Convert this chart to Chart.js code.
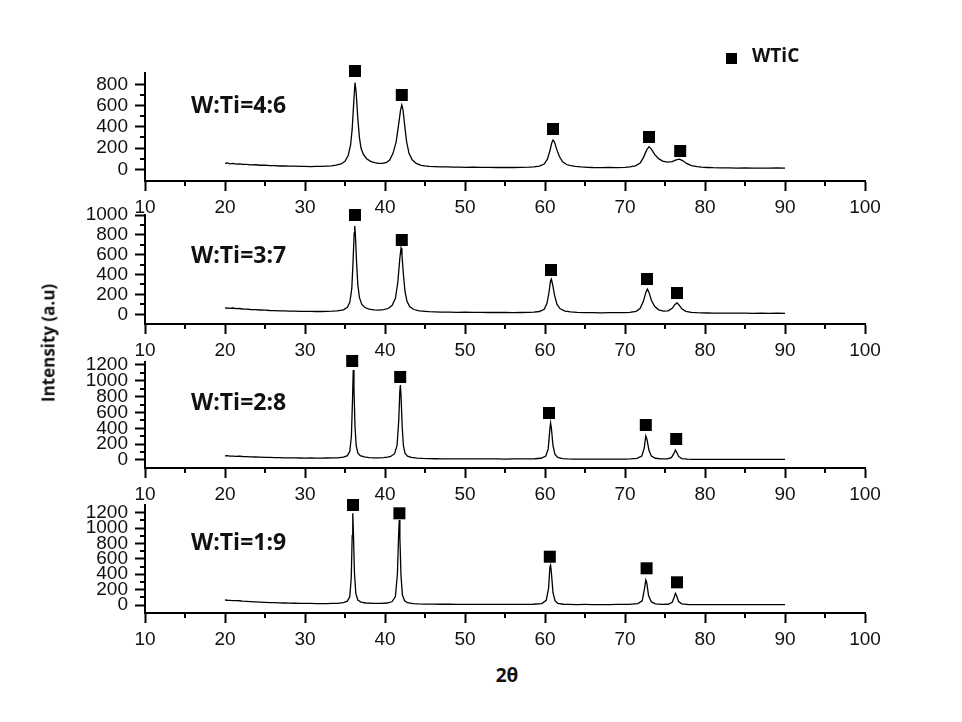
<!DOCTYPE html>
<html>
<head>
<meta charset="utf-8">
<script src="https://cdn.jsdelivr.net/npm/chart.js@4.4.0/dist/chart.umd.min.js"></script>
<style>
  body { margin: 0; background: #fff; }
  #wrap { position: relative; width: 962px; height: 722px; background: #fff; overflow: hidden; }
  #wrap canvas { position: absolute; left: 0; }
  .txt { position: absolute; font-family: "Open Sans", "Noto Sans", sans-serif; font-weight: 700; color: #111; white-space: nowrap; line-height: 1; }
  .lbl { font-size: 23px; left: 191px; }
  #ytitle { font-size: 17px; left: 48px; top: 343px; transform: translate(-50%, -50%) rotate(-90deg); }
  #xtitle { font-size: 19px; left: 507px; top: 675px; transform: translate(-50%, -50%); }
  #legend { font-size: 19px; left: 752px; top: 46px; }
  #legbox { position: absolute; left: 726px; top: 53px; width: 11px; height: 11px; background: #000; }
</style>
</head>
<body>
<div id="wrap">
  <canvas id="c1" width="962" height="170" style="top:51px"></canvas>
  <canvas id="c2" width="962" height="171" style="top:193px"></canvas>
  <canvas id="c3" width="962" height="168" style="top:340px"></canvas>
  <canvas id="c4" width="962" height="170" style="top:483px"></canvas>
  <div class="txt lbl" style="top:93px">W:Ti=4:6</div>
  <div class="txt lbl" style="top:243px">W:Ti=3:7</div>
  <div class="txt lbl" style="top:390px">W:Ti=2:8</div>
  <div class="txt lbl" style="top:530px">W:Ti=1:9</div>
  <div id="ytitle" class="txt">Intensity (a.u)</div>
  <div id="xtitle" class="txt">2θ</div>
  <div id="legbox"></div>
  <div id="legend" class="txt">WTiC</div>
</div>
<script>
// x axis: 2-theta, degrees
const xTicks = [10, 20, 30, 40, 50, 60, 70, 80, 90, 100];
const xMinorTicks = [15, 25, 35, 45, 55, 65, 75, 85, 95];

// XRD patterns, [2theta, intensity]
const pattern46 = [
  [20,55],[20.3,60],[20.6,52],[21,56],[21.4,49],[21.8,51],[22.2,46],[22.7,47],[23.2,42],[23.8,43],[24.4,38],[25,39],
  [25.6,35],[26.2,34],[26.8,31],[27.4,32],[28,29],[28.7,30],[29.4,27],[30,28],[30.7,26],[31.4,28],[32,27],[32.7,30],
  [33.3,33],[33.9,40],[34.5,50],[35,75],[35.4,130],[35.7,230],[35.9,380],[36.1,640],[36.25,815],[36.4,720],
  [36.6,480],[36.8,300],[37,200],[37.3,140],[37.7,100],[38.2,75],[38.7,62],[39.2,56],[39.7,55],[40.2,65],[40.6,90],
  [41,150],[41.4,260],[41.7,420],[41.95,560],[42.1,605],[42.25,560],[42.45,420],[42.7,260],[43,150],[43.4,90],
  [43.9,55],[44.5,38],[45,32],[45.5,28],[46.2,25],[47,22],[47.8,23],[48.5,20],[49.3,21],[50,19],[51,20],[52,18],
  [53,19],[54,17],[55,18],[56,17],[57,19],[58,20],[58.6,23],[59.3,30],[59.9,50],[60.3,95],[60.6,170],[60.85,250],
  [61,276],[61.2,255],[61.45,190],[61.8,120],[62.2,70],[62.7,45],[63.2,34],[63.8,27],[64.5,22],[65.3,19],[66,17],
  [67,16],[68,17],[69,16],[70,18],[70.6,22],[71.3,32],[71.9,60],[72.3,110],[72.7,180],[73,213],[73.3,190],
  [73.7,140],[74.2,100],[74.7,78],[75.3,68],[75.9,72],[76.4,88],[76.8,95],[77.2,82],[77.7,55],[78.3,35],[79,25],
  [79.6,20],[80.3,17],[81,15],[82,14],[83,13],[84,12],[85,13],[86,11],[87,12],[88,11],[89,13],[90,12]
];
const pattern37 = [
  [20,62],[20.3,64],[20.6,59],[21,63],[21.4,56],[21.8,58],[22.2,53],[22.7,51],[23.2,48],[23.8,46],[24.4,43],[25,41],
  [25.6,38],[26.2,37],[26.8,34],[27.4,34],[28,32],[28.7,31],[29.4,30],[30,29],[30.7,29],[31.4,28],[32,28],[32.7,30],
  [33.4,31],[34,34],[34.8,45],[35.3,70],[35.6,120],[35.85,260],[36,520],[36.15,820],[36.22,889],[36.3,800],
  [36.45,520],[36.6,300],[36.8,170],[37.1,100],[37.5,68],[38,52],[38.6,44],[39.2,42],[39.8,46],[40.4,58],[40.9,90],
  [41.3,160],[41.6,320],[41.85,560],[42,665],[42.12,600],[42.3,400],[42.5,230],[42.75,130],[43.1,75],[43.6,48],
  [44.3,34],[45,29],[45.5,26],[46.2,24],[47,22],[48,21],[49,20],[50,21],[51,19],[52,19],[53,18],[54,19],[55,18],
  [56,17],[57,18],[58,19],[58.6,22],[59.3,28],[59.9,50],[60.25,110],[60.5,220],[60.7,340],[60.8,355],[60.95,300],
  [61.2,190],[61.5,100],[61.9,55],[62.5,32],[63.2,24],[64,20],[65,17],[66,16],[67,15],[68,16],[69,16],[70,17],
  [70.6,19],[71.4,30],[71.9,60],[72.3,130],[72.6,220],[72.8,255],[73,220],[73.3,140],[73.7,80],[74.2,45],[74.8,32],
  [75.4,35],[75.9,60],[76.25,100],[76.5,114],[76.75,95],[77.1,55],[77.6,30],[78.3,20],[79,16],[79.5,15],[80.3,13],
  [81,12],[82,12],[83,11],[84,12],[85,12],[86,10],[87,11],[88,10],[89,11],[90,10]
];
const pattern28 = [
  [20,52],[20.3,55],[20.6,50],[21,49],[21.4,47],[21.8,48],[22.2,44],[22.7,43],[23.2,40],[23.8,38],[24.4,36],[25,34],
  [25.6,32],[26.2,31],[26.8,29],[27.4,28],[28,26],[28.7,26],[29.4,25],[30,24],[30.7,25],[31.4,24],[32,24],[32.7,25],
  [33.4,26],[34,28],[34.8,36],[35.3,55],[35.6,110],[35.8,300],[35.95,800],[36.03,1137],[36.12,900],[36.25,420],
  [36.4,180],[36.6,90],[36.9,55],[37.4,38],[38,30],[38.6,28],[39.2,28],[39.8,30],[40.3,36],[40.7,45],[41.2,80],
  [41.5,180],[41.72,500],[41.85,860],[41.92,947],[42,820],[42.15,420],[42.3,180],[42.5,85],[42.8,48],[43.3,32],
  [44,24],[44.7,20],[45.5,18],[46.3,16],[47,15],[48,15],[49,14],[50,14],[51,13],[52,14],[53,13],[54,13],[55,12],
  [56,13],[57,13],[58,14],[58.7,16],[59.5,22],[60.1,50],[60.4,140],[60.6,380],[60.7,467],[60.8,400],[61,180],
  [61.25,70],[61.6,32],[62.2,18],[62.8,14],[63.5,12],[64.3,11],[65,10],[66,10],[67,10],[68,11],[69,10],[70,11],
  [70.7,13],[71.5,20],[72.1,50],[72.4,150],[72.6,303],[72.75,260],[73,120],[73.3,50],[73.8,22],[74.5,14],[75.3,14],
  [75.8,30],[76.1,80],[76.3,126],[76.45,100],[76.7,45],[77.1,18],[77.8,10],[78.5,9],[79,8],[80,8],[81,8],[82,7],
  [83,7],[84,8],[85,8],[86,7],[87,7],[88,8],[89,7],[90,8]
];
const pattern19 = [
  [20,65],[20.3,62],[20.6,60],[21,58],[21.4,56],[21.8,55],[22.2,51],[22.7,48],[23.2,45],[23.8,41],[24.4,38],[25,35],
  [25.6,32],[26.2,30],[26.8,28],[27.4,26],[28,24],[28.7,23],[29.4,22],[30,20],[30.7,20],[31.4,19],[32,18],[32.7,19],
  [33.4,20],[34,22],[34.8,30],[35.3,50],[35.6,110],[35.78,350],[35.9,900],[35.97,1192],[36.05,950],[36.18,420],
  [36.35,150],[36.6,65],[37,38],[37.6,26],[38.5,20],[39.5,20],[40.3,26],[40.9,45],[41.3,110],[41.55,400],[41.7,900],
  [41.78,1105],[41.86,880],[42,380],[42.18,130],[42.45,55],[42.8,30],[43.5,18],[44.2,14],[45,12],[46,11],[47,10],
  [48,10],[49,9],[50,9],[51,8],[52,9],[53,8],[54,8],[55,8],[56,9],[57,8],[58,9],[58.5,10],[59.6,18],[60.15,60],
  [60.45,220],[60.62,500],[60.7,520],[60.8,420],[61,160],[61.25,55],[61.6,22],[62.3,10],[63,8],[64,6],[65,7],
  [66,6],[67,6],[68,6],[69,7],[70,7],[70.5,8],[71.6,18],[72.15,55],[72.45,220],[72.6,325],[72.72,290],[72.95,120],
  [73.3,40],[73.8,15],[74.6,8],[75.4,10],[75.9,35],[76.15,100],[76.3,152],[76.45,120],[76.7,45],[77.1,15],[78,6],
  [79,5],[80,5],[81,6],[82,5],[83,4],[84,4],[85,5],[86,5],[87,4],[88,4],[89,5],[90,5]
];

// WTiC reflection markers, [2theta, height]
const marks46 = [[36.25, 925], [42.1, 699], [61.0, 379], [73.0, 304], [76.9, 172]];
const marks37 = [[36.25, 1000], [42.1, 748], [60.75, 446], [72.75, 355], [76.5, 214]];
const marks28 = [[35.9, 1250], [41.9, 1048], [60.5, 593], [72.6, 442], [76.4, 265]];
const marks19 = [[36.0, 1300], [41.8, 1192], [60.6, 628], [72.7, 477], [76.5, 295]];

// y tick labels per panel
const yTicks46 = [0, 200, 400, 600, 800];
const yTicks37 = [0, 200, 400, 600, 800, 1000];
const yTicks28 = [0, 200, 400, 600, 800, 1000, 1200];
const yTicks19 = [0, 200, 400, 600, 800, 1000, 1200];
const yMinor46 = [100, 300, 500, 700];
const yMinor37 = [100, 300, 500, 700, 900];
const yMinor28 = [100, 300, 500, 700, 900, 1100];
const yMinor19 = [100, 300, 500, 700, 900, 1100];

const tickFont = { family: '"Liberation Sans", Arial, sans-serif', size: 19 };

// short ticks between the labelled ones
const minorTicks = {
    id: 'minorTicks',
    afterDraw(chart, args, opts) {
        const ctx = chart.ctx;
        const x = chart.scales.x, y = chart.scales.y;
        ctx.save();
        ctx.strokeStyle = '#000';
        ctx.lineWidth = 2;
        opts.xMinor.forEach(v => {
            const px = Math.round(x.getPixelForValue(v));
            ctx.beginPath();
            ctx.moveTo(px, x.top);
            ctx.lineTo(px, x.top + 5);
            ctx.stroke();
        });
        opts.yMinor.forEach(v => {
            const py = Math.round(y.getPixelForValue(v));
            ctx.beginPath();
            ctx.moveTo(y.right, py);
            ctx.lineTo(y.right - 5, py);
            ctx.stroke();
        });
        ctx.restore();
    }
};

function makePanel(id, pattern, marks, yTicks, yMinor, yMin, yMax) {
    const ctx = document.getElementById(id).getContext('2d');
    return new Chart(ctx, {
        type: 'line',
        data: {
            datasets: [{
                data: pattern.map(p => ({ x: p[0], y: p[1] })),
                borderColor: '#000',
                borderWidth: 1.3,
                pointRadius: 0,
                tension: 0
            }, {
                type: 'scatter',
                data: marks.map(p => ({ x: p[0], y: p[1] })),
                backgroundColor: '#000',
                borderWidth: 0,
                pointStyle: 'rect',
                pointRadius: 8.5,
                clip: false
            }]
        },
        options: {
            responsive: false,
            devicePixelRatio: 1,
            animation: false,
            events: [],
            layout: { padding: { top: 22, left: 0, right: 97, bottom: 0 } },
            plugins: {
                legend: { display: false },
                tooltip: { enabled: false },
                minorTicks: { xMinor: xMinorTicks, yMinor: yMinor }
            },
            scales: {
                x: {
                    type: 'linear',
                    min: 10,
                    max: 100,
                    afterBuildTicks: s => { s.ticks = xTicks.map(v => ({ value: v })); },
                    afterFit: s => { s.height = 40; },
                    grid: { drawOnChartArea: false, tickLength: 10, tickWidth: 2, tickColor: '#000' },
                    border: { color: '#000', width: 2 },
                    ticks: { autoSkip: false, maxRotation: 0, padding: 5, color: '#111', font: tickFont, callback: v => String(v) }
                },
                y: {
                    type: 'linear',
                    min: yMin,
                    max: yMax,
                    afterBuildTicks: s => { s.ticks = yTicks.map(v => ({ value: v })); },
                    afterFit: s => { s.width = 145; },
                    grid: { drawOnChartArea: false, tickLength: 10, tickWidth: 2, tickColor: '#000' },
                    border: { color: '#000', width: 2 },
                    ticks: { autoSkip: false, padding: 7, color: '#111', font: tickFont, callback: v => String(v) }
                }
            }
        },
        plugins: [minorTicks]
    });
}

makePanel('c1', pattern46, marks46, yTicks46, yMinor46, -110, 906);
makePanel('c2', pattern37, marks37, yTicks37, yMinor37, -98, 1000);
makePanel('c3', pattern28, marks28, yTicks28, yMinor28, -101, 1237);
makePanel('c4', pattern19, marks19, yTicks19, yMinor19, -104, 1300);
</script>
</body>
</html>
